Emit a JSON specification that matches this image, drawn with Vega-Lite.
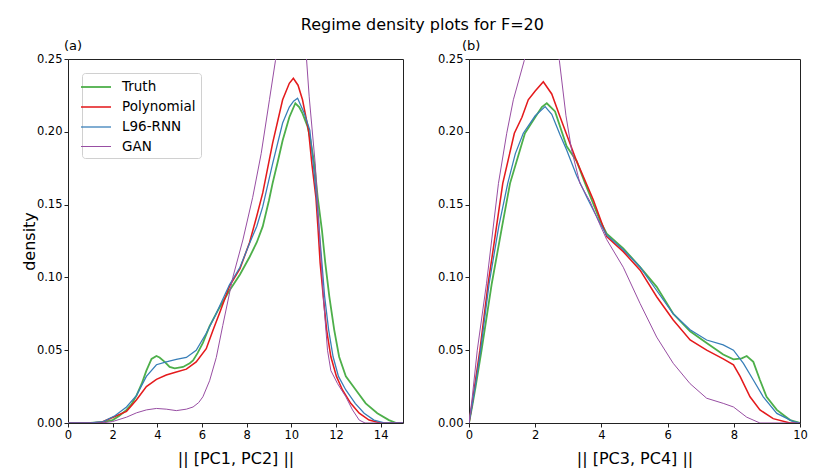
{
  "$schema": "https://vega.github.io/schema/vega-lite/v6.json",
  "padding": {"left": 20, "top": 16, "right": 8, "bottom": 5},
  "background": "white",
  "title": {"text": "Regime density plots for F=20", "fontSize": 16, "font": "DejaVu Sans", "fontWeight": "normal", "color": "black", "anchor": "middle", "offset": 7, "dx": 8},
  "datasets": {
    "a": [
      {"s":"Truth","x":0,"y":0},{"s":"Truth","x":1,"y":0},{"s":"Truth","x":1.5,"y":0.0005},{"s":"Truth","x":2,"y":0.002},{"s":"Truth","x":2.3,"y":0.005},{"s":"Truth","x":2.62,"y":0.009},{"s":"Truth","x":2.85,"y":0.013},{"s":"Truth","x":3.07,"y":0.019},{"s":"Truth","x":3.3,"y":0.027},{"s":"Truth","x":3.51,"y":0.036},{"s":"Truth","x":3.74,"y":0.044},{"s":"Truth","x":3.96,"y":0.046},{"s":"Truth","x":4.1,"y":0.045},{"s":"Truth","x":4.33,"y":0.042},{"s":"Truth","x":4.55,"y":0.0385},{"s":"Truth","x":4.78,"y":0.0375},{"s":"Truth","x":5.15,"y":0.0385},{"s":"Truth","x":5.45,"y":0.041},{"s":"Truth","x":5.6,"y":0.043},{"s":"Truth","x":5.8,"y":0.048},{"s":"Truth","x":6.04,"y":0.055},{"s":"Truth","x":6.34,"y":0.0665},{"s":"Truth","x":6.7,"y":0.077},{"s":"Truth","x":7.23,"y":0.091},{"s":"Truth","x":7.7,"y":0.102},{"s":"Truth","x":8.13,"y":0.114},{"s":"Truth","x":8.45,"y":0.124},{"s":"Truth","x":8.72,"y":0.135},{"s":"Truth","x":9.0,"y":0.153},{"s":"Truth","x":9.16,"y":0.1646},{"s":"Truth","x":9.4,"y":0.18},{"s":"Truth","x":9.61,"y":0.194},{"s":"Truth","x":9.91,"y":0.21},{"s":"Truth","x":10.18,"y":0.2196},{"s":"Truth","x":10.35,"y":0.217},{"s":"Truth","x":10.5,"y":0.2127},{"s":"Truth","x":10.73,"y":0.2035},{"s":"Truth","x":10.85,"y":0.195},{"s":"Truth","x":11.03,"y":0.178},{"s":"Truth","x":11.18,"y":0.155},{"s":"Truth","x":11.37,"y":0.1325},{"s":"Truth","x":11.52,"y":0.11},{"s":"Truth","x":11.7,"y":0.087},{"s":"Truth","x":11.92,"y":0.064},{"s":"Truth","x":12.14,"y":0.0455},{"s":"Truth","x":12.44,"y":0.032},{"s":"Truth","x":12.89,"y":0.0227},{"s":"Truth","x":13.33,"y":0.0135},{"s":"Truth","x":13.85,"y":0.0067},{"s":"Truth","x":14.37,"y":0.002},{"s":"Truth","x":14.7,"y":0},{"s":"Truth","x":15,"y":0},
      {"s":"Polynomial","x":0,"y":0},{"s":"Polynomial","x":1,"y":0},{"s":"Polynomial","x":1.5,"y":0.0005},{"s":"Polynomial","x":2.02,"y":0.004},{"s":"Polynomial","x":2.62,"y":0.008},{"s":"Polynomial","x":3.07,"y":0.016},{"s":"Polynomial","x":3.51,"y":0.025},{"s":"Polynomial","x":3.96,"y":0.03},{"s":"Polynomial","x":4.4,"y":0.033},{"s":"Polynomial","x":4.85,"y":0.035},{"s":"Polynomial","x":5.3,"y":0.037},{"s":"Polynomial","x":5.74,"y":0.042},{"s":"Polynomial","x":6.19,"y":0.051},{"s":"Polynomial","x":6.5,"y":0.064},{"s":"Polynomial","x":6.8,"y":0.076},{"s":"Polynomial","x":7.23,"y":0.094},{"s":"Polynomial","x":7.7,"y":0.106},{"s":"Polynomial","x":8.13,"y":0.124},{"s":"Polynomial","x":8.45,"y":0.142},{"s":"Polynomial","x":8.72,"y":0.158},{"s":"Polynomial","x":9.16,"y":0.192},{"s":"Polynomial","x":9.61,"y":0.222},{"s":"Polynomial","x":9.91,"y":0.2333},{"s":"Polynomial","x":10.09,"y":0.2367},{"s":"Polynomial","x":10.3,"y":0.232},{"s":"Polynomial","x":10.5,"y":0.222},{"s":"Polynomial","x":10.77,"y":0.201},{"s":"Polynomial","x":10.92,"y":0.178},{"s":"Polynomial","x":11.1,"y":0.155},{"s":"Polynomial","x":11.2,"y":0.1325},{"s":"Polynomial","x":11.29,"y":0.11},{"s":"Polynomial","x":11.43,"y":0.087},{"s":"Polynomial","x":11.58,"y":0.064},{"s":"Polynomial","x":11.77,"y":0.0455},{"s":"Polynomial","x":12.02,"y":0.032},{"s":"Polynomial","x":12.29,"y":0.0227},{"s":"Polynomial","x":12.66,"y":0.0135},{"s":"Polynomial","x":13.04,"y":0.0067},{"s":"Polynomial","x":13.48,"y":0.002},{"s":"Polynomial","x":14,"y":0},{"s":"Polynomial","x":15,"y":0},
      {"s":"L96-RNN","x":0,"y":0},{"s":"L96-RNN","x":1,"y":0},{"s":"L96-RNN","x":1.58,"y":0.001},{"s":"L96-RNN","x":2.1,"y":0.005},{"s":"L96-RNN","x":2.62,"y":0.011},{"s":"L96-RNN","x":3.07,"y":0.019},{"s":"L96-RNN","x":3.51,"y":0.032},{"s":"L96-RNN","x":3.96,"y":0.04},{"s":"L96-RNN","x":4.4,"y":0.042},{"s":"L96-RNN","x":4.85,"y":0.0437},{"s":"L96-RNN","x":5.3,"y":0.045},{"s":"L96-RNN","x":5.74,"y":0.05},{"s":"L96-RNN","x":6.19,"y":0.0616},{"s":"L96-RNN","x":6.6,"y":0.074},{"s":"L96-RNN","x":7.23,"y":0.095},{"s":"L96-RNN","x":7.7,"y":0.107},{"s":"L96-RNN","x":8.13,"y":0.1234},{"s":"L96-RNN","x":8.45,"y":0.135},{"s":"L96-RNN","x":8.72,"y":0.1486},{"s":"L96-RNN","x":9.16,"y":0.178},{"s":"L96-RNN","x":9.61,"y":0.206},{"s":"L96-RNN","x":9.91,"y":0.217},{"s":"L96-RNN","x":10.1,"y":0.221},{"s":"L96-RNN","x":10.28,"y":0.223},{"s":"L96-RNN","x":10.58,"y":0.2127},{"s":"L96-RNN","x":10.83,"y":0.201},{"s":"L96-RNN","x":10.98,"y":0.178},{"s":"L96-RNN","x":11.13,"y":0.155},{"s":"L96-RNN","x":11.25,"y":0.1325},{"s":"L96-RNN","x":11.37,"y":0.11},{"s":"L96-RNN","x":11.49,"y":0.087},{"s":"L96-RNN","x":11.67,"y":0.064},{"s":"L96-RNN","x":11.87,"y":0.0455},{"s":"L96-RNN","x":12.11,"y":0.032},{"s":"L96-RNN","x":12.44,"y":0.0227},{"s":"L96-RNN","x":12.86,"y":0.0135},{"s":"L96-RNN","x":13.26,"y":0.0067},{"s":"L96-RNN","x":13.7,"y":0.002},{"s":"L96-RNN","x":14.2,"y":0},{"s":"L96-RNN","x":15,"y":0},
      {"s":"GAN","x":0,"y":0},{"s":"GAN","x":1.5,"y":0},{"s":"GAN","x":2,"y":0.001},{"s":"GAN","x":2.62,"y":0.004},{"s":"GAN","x":3.07,"y":0.007},{"s":"GAN","x":3.51,"y":0.009},{"s":"GAN","x":3.96,"y":0.01},{"s":"GAN","x":4.4,"y":0.0095},{"s":"GAN","x":4.85,"y":0.0085},{"s":"GAN","x":5.3,"y":0.0095},{"s":"GAN","x":5.6,"y":0.011},{"s":"GAN","x":5.85,"y":0.014},{"s":"GAN","x":6.04,"y":0.018},{"s":"GAN","x":6.34,"y":0.029},{"s":"GAN","x":6.64,"y":0.045},{"s":"GAN","x":6.93,"y":0.067},{"s":"GAN","x":7.38,"y":0.1},{"s":"GAN","x":7.83,"y":0.1257},{"s":"GAN","x":8.27,"y":0.155},{"s":"GAN","x":8.65,"y":0.185},{"s":"GAN","x":9.02,"y":0.222},{"s":"GAN","x":9.29,"y":0.249},{"s":"GAN","x":9.6,"y":0.275},{"s":"GAN","x":10.0,"y":0.29},{"s":"GAN","x":10.4,"y":0.28},{"s":"GAN","x":10.68,"y":0.25},{"s":"GAN","x":10.8,"y":0.224},{"s":"GAN","x":11.07,"y":0.178},{"s":"GAN","x":11.25,"y":0.1325},{"s":"GAN","x":11.43,"y":0.087},{"s":"GAN","x":11.62,"y":0.05},{"s":"GAN","x":11.77,"y":0.036},{"s":"GAN","x":12.07,"y":0.027},{"s":"GAN","x":12.44,"y":0.018},{"s":"GAN","x":12.74,"y":0.009},{"s":"GAN","x":13.04,"y":0.002},{"s":"GAN","x":13.3,"y":0},{"s":"GAN","x":15,"y":0}
    ],
    "b": [
      {"s":"Truth","x":0,"y":0},{"s":"Truth","x":0.1,"y":0.012},{"s":"Truth","x":0.2,"y":0.025},{"s":"Truth","x":0.38,"y":0.05},{"s":"Truth","x":0.69,"y":0.096},{"s":"Truth","x":1.0,"y":0.135},{"s":"Truth","x":1.24,"y":0.1646},{"s":"Truth","x":1.54,"y":0.1875},{"s":"Truth","x":1.69,"y":0.199},{"s":"Truth","x":2.0,"y":0.21},{"s":"Truth","x":2.2,"y":0.217},{"s":"Truth","x":2.35,"y":0.2196},{"s":"Truth","x":2.6,"y":0.214},{"s":"Truth","x":2.95,"y":0.19},{"s":"Truth","x":3.25,"y":0.18},{"s":"Truth","x":3.5,"y":0.165},{"s":"Truth","x":3.96,"y":0.139},{"s":"Truth","x":4.16,"y":0.13},{"s":"Truth","x":4.66,"y":0.12},{"s":"Truth","x":5.17,"y":0.107},{"s":"Truth","x":5.67,"y":0.0935},{"s":"Truth","x":6.17,"y":0.075},{"s":"Truth","x":6.68,"y":0.063},{"s":"Truth","x":7.18,"y":0.055},{"s":"Truth","x":7.68,"y":0.047},{"s":"Truth","x":7.99,"y":0.0437},{"s":"Truth","x":8.24,"y":0.0444},{"s":"Truth","x":8.39,"y":0.046},{"s":"Truth","x":8.59,"y":0.042},{"s":"Truth","x":8.79,"y":0.0295},{"s":"Truth","x":8.99,"y":0.018},{"s":"Truth","x":9.3,"y":0.009},{"s":"Truth","x":9.7,"y":0.002},{"s":"Truth","x":10,"y":0},
      {"s":"Polynomial","x":0,"y":0},{"s":"Polynomial","x":0.1,"y":0.014},{"s":"Polynomial","x":0.2,"y":0.03},{"s":"Polynomial","x":0.33,"y":0.05},{"s":"Polynomial","x":0.58,"y":0.096},{"s":"Polynomial","x":0.8,"y":0.13},{"s":"Polynomial","x":1.02,"y":0.1646},{"s":"Polynomial","x":1.37,"y":0.199},{"s":"Polynomial","x":1.6,"y":0.21},{"s":"Polynomial","x":1.79,"y":0.222},{"s":"Polynomial","x":2.0,"y":0.228},{"s":"Polynomial","x":2.245,"y":0.2344},{"s":"Polynomial","x":2.5,"y":0.226},{"s":"Polynomial","x":2.75,"y":0.2104},{"s":"Polynomial","x":3.0,"y":0.195},{"s":"Polynomial","x":3.25,"y":0.18},{"s":"Polynomial","x":3.76,"y":0.153},{"s":"Polynomial","x":4.16,"y":0.128},{"s":"Polynomial","x":4.66,"y":0.1177},{"s":"Polynomial","x":5.17,"y":0.105},{"s":"Polynomial","x":5.67,"y":0.0867},{"s":"Polynomial","x":6.17,"y":0.0707},{"s":"Polynomial","x":6.68,"y":0.057},{"s":"Polynomial","x":7.18,"y":0.05},{"s":"Polynomial","x":7.68,"y":0.044},{"s":"Polynomial","x":7.99,"y":0.04},{"s":"Polynomial","x":8.19,"y":0.032},{"s":"Polynomial","x":8.49,"y":0.018},{"s":"Polynomial","x":8.79,"y":0.009},{"s":"Polynomial","x":9.19,"y":0.003},{"s":"Polynomial","x":9.7,"y":0},{"s":"Polynomial","x":10,"y":0},
      {"s":"L96-RNN","x":0,"y":0},{"s":"L96-RNN","x":0.1,"y":0.013},{"s":"L96-RNN","x":0.2,"y":0.027},{"s":"L96-RNN","x":0.35,"y":0.05},{"s":"L96-RNN","x":0.61,"y":0.096},{"s":"L96-RNN","x":0.9,"y":0.135},{"s":"L96-RNN","x":1.17,"y":0.1646},{"s":"L96-RNN","x":1.4,"y":0.185},{"s":"L96-RNN","x":1.64,"y":0.199},{"s":"L96-RNN","x":2.0,"y":0.211},{"s":"L96-RNN","x":2.3,"y":0.2173},{"s":"L96-RNN","x":2.5,"y":0.212},{"s":"L96-RNN","x":2.75,"y":0.198},{"s":"L96-RNN","x":2.95,"y":0.1875},{"s":"L96-RNN","x":3.25,"y":0.17},{"s":"L96-RNN","x":3.56,"y":0.155},{"s":"L96-RNN","x":3.96,"y":0.137},{"s":"L96-RNN","x":4.16,"y":0.129},{"s":"L96-RNN","x":4.66,"y":0.119},{"s":"L96-RNN","x":5.17,"y":0.107},{"s":"L96-RNN","x":5.67,"y":0.091},{"s":"L96-RNN","x":6.17,"y":0.075},{"s":"L96-RNN","x":6.68,"y":0.064},{"s":"L96-RNN","x":7.18,"y":0.057},{"s":"L96-RNN","x":7.68,"y":0.0536},{"s":"L96-RNN","x":7.99,"y":0.05},{"s":"L96-RNN","x":8.29,"y":0.041},{"s":"L96-RNN","x":8.59,"y":0.0295},{"s":"L96-RNN","x":8.89,"y":0.018},{"s":"L96-RNN","x":9.3,"y":0.0066},{"s":"L96-RNN","x":9.8,"y":0.001},{"s":"L96-RNN","x":10,"y":0},
      {"s":"GAN","x":0,"y":0},{"s":"GAN","x":0.1,"y":0.018},{"s":"GAN","x":0.25,"y":0.05},{"s":"GAN","x":0.53,"y":0.096},{"s":"GAN","x":0.89,"y":0.1646},{"s":"GAN","x":1.14,"y":0.199},{"s":"GAN","x":1.34,"y":0.222},{"s":"GAN","x":1.67,"y":0.249},{"s":"GAN","x":2.0,"y":0.28},{"s":"GAN","x":2.2,"y":0.29},{"s":"GAN","x":2.45,"y":0.28},{"s":"GAN","x":2.73,"y":0.249},{"s":"GAN","x":2.93,"y":0.211},{"s":"GAN","x":3.1,"y":0.1875},{"s":"GAN","x":3.35,"y":0.1646},{"s":"GAN","x":3.66,"y":0.152},{"s":"GAN","x":3.96,"y":0.136},{"s":"GAN","x":4.16,"y":0.126},{"s":"GAN","x":4.66,"y":0.107},{"s":"GAN","x":5.17,"y":0.082},{"s":"GAN","x":5.67,"y":0.059},{"s":"GAN","x":6.17,"y":0.041},{"s":"GAN","x":6.68,"y":0.027},{"s":"GAN","x":7.18,"y":0.017},{"s":"GAN","x":7.68,"y":0.0135},{"s":"GAN","x":7.99,"y":0.011},{"s":"GAN","x":8.39,"y":0.004},{"s":"GAN","x":8.79,"y":0},{"s":"GAN","x":10,"y":0}
    ]
  },
  "spacing": 32,
  "hconcat": [
    {
      "width": 335,
      "height": 364,
      "title": {"text": "(a)", "anchor": "start", "frame": "group", "dx": -4, "fontSize": 13, "font": "DejaVu Sans", "fontWeight": "normal", "offset": 0},
      "data": {"name": "a"},
      "mark": {"type": "line", "clip": true},
      "encoding": {
        "x": {"field": "x", "type": "quantitative", "scale": {"domain": [0, 15], "nice": false, "zero": false}, "axis": {"values": [0,2,4,6,8,10,12,14], "title": "|| [PC1, PC2] ||"}},
        "y": {"field": "y", "type": "quantitative", "scale": {"domain": [0, 0.25], "nice": false}, "axis": {"values": [0,0.05,0.1,0.15,0.2,0.25], "format": ".2f", "title": "density"}},
        "color": {"field": "s", "type": "nominal", "title": null, "scale": {"domain": ["Truth","Polynomial","L96-RNN","GAN"], "range": ["#4daf4a","#e41a1c","#377eb8","#984ea3"]}, "legend": {"orient": "none", "legendX": 14, "legendY": 14}},
        "strokeWidth": {"field": "s", "type": "nominal", "title": null, "scale": {"domain": ["Truth","Polynomial","L96-RNN","GAN"], "range": [1.8, 1.0, 1.0, 1.0]}, "legend": {"orient": "none", "legendX": 14, "legendY": 14}}
      }
    },
    {
      "width": 331,
      "height": 364,
      "title": {"text": "(b)", "anchor": "start", "frame": "group", "dx": -7, "fontSize": 13, "font": "DejaVu Sans", "fontWeight": "normal", "offset": 0},
      "data": {"name": "b"},
      "mark": {"type": "line", "clip": true},
      "encoding": {
        "x": {"field": "x", "type": "quantitative", "scale": {"domain": [0, 10], "nice": false, "zero": false}, "axis": {"values": [0,2,4,6,8,10], "title": "|| [PC3, PC4] ||"}},
        "y": {"field": "y", "type": "quantitative", "scale": {"domain": [0, 0.25], "nice": false}, "axis": {"values": [0,0.05,0.1,0.15,0.2,0.25], "format": ".2f", "title": null}},
        "color": {"field": "s", "type": "nominal", "legend": null, "scale": {"domain": ["Truth","Polynomial","L96-RNN","GAN"], "range": ["#4daf4a","#e41a1c","#377eb8","#984ea3"]}},
        "strokeWidth": {"field": "s", "type": "nominal", "legend": null, "scale": {"domain": ["Truth","Polynomial","L96-RNN","GAN"], "range": [1.8, 1.0, 1.0, 1.0]}}
      }
    }
  ],
  "resolve": {"scale": {"color": "independent", "strokeWidth": "independent"}},
  "config": {
    "font": "DejaVu Sans",
    "view": {"stroke": "#222", "strokeWidth": 1},
    "axis": {"grid": false, "domain": false, "tickColor": "#222", "tickSize": 4, "labelFont": "DejaVu Sans", "labelFontSize": 11.5, "labelColor": "black", "labelFlush": false, "labelPadding": 2, "titleFont": "DejaVu Sans", "titleFontSize": 16, "titleFontWeight": "normal", "titleColor": "black"},
    "axisX": {"titlePadding": 10},
    "axisY": {"titlePadding": -1},
    "legend": {"strokeColor": "#d0d0d0", "fillColor": "white", "cornerRadius": 3, "padding": 5, "labelFont": "DejaVu Sans", "labelFontSize": 13.5, "labelColor": "black", "labelOffset": 17, "symbolType": "M-1.875,0H1.875", "symbolSize": 256, "rowPadding": 4}
  }
}
